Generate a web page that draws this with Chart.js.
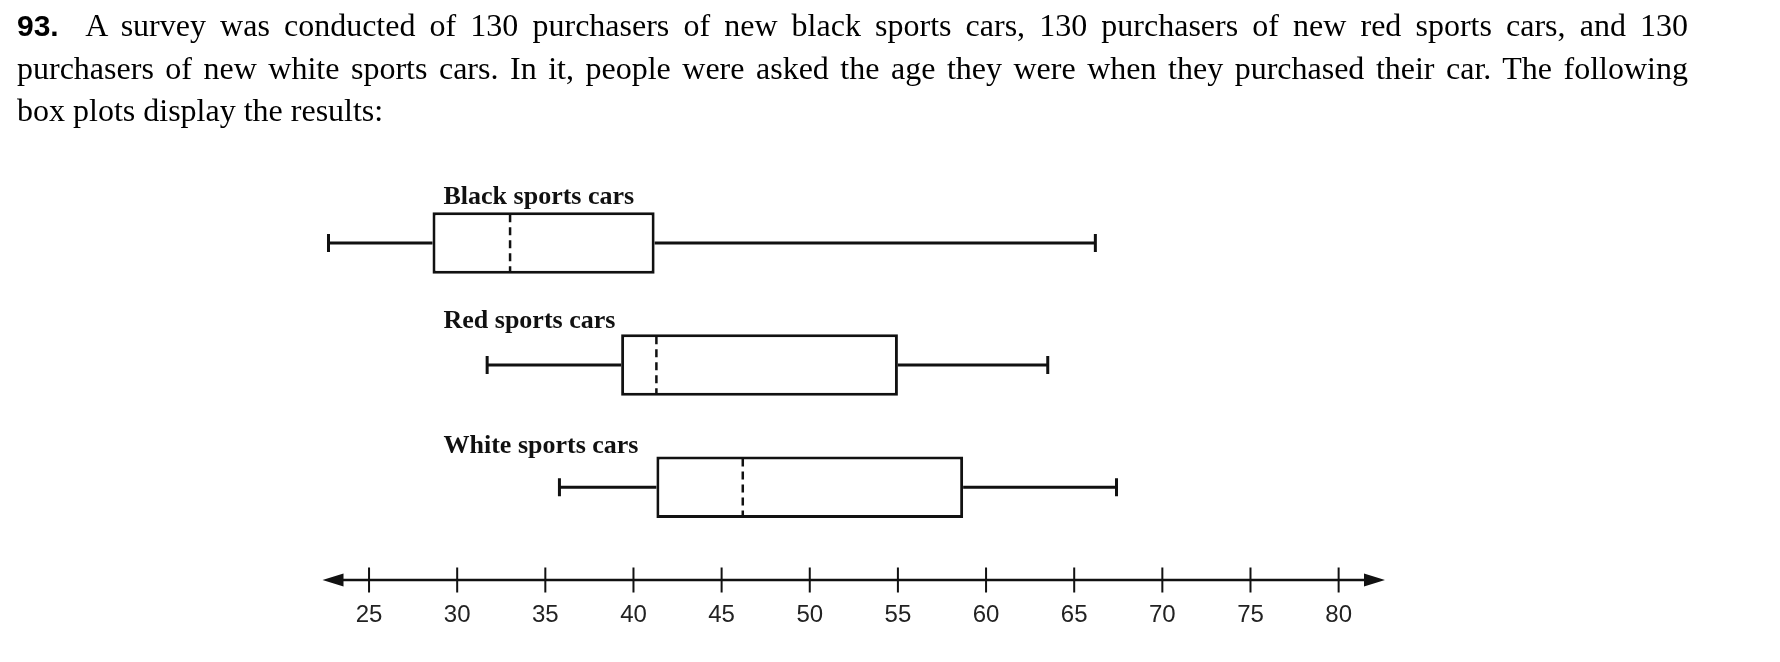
<!DOCTYPE html>
<html>
<head>
<meta charset="utf-8">
<script src="https://cdn.jsdelivr.net/npm/chart.js@4.4.1/dist/chart.umd.min.js"></script>
<style>
  html, body { margin: 0; padding: 0; background: #fff; }
  #wrap { position: relative; width: 1780px; height: 662px; overflow: hidden; }
  #chart { position: absolute; left: 0; top: 0; }
  #question {
    position: absolute; left: 17px; top: 4px; width: 1671px; z-index: 2;
    font: 32px/42px "Liberation Serif", "Times New Roman", serif; color: #000;
  }
  #question .ln { text-align: justify; text-align-last: justify; }
  #question .ln.last { text-align-last: left; }
  #question b { font-family: "Liberation Sans", Arial, sans-serif; font-size: 30px; }
</style>
</head>
<body>
<div id="wrap">
  <div id="question">
    <div class="ln"><b>93.</b>&nbsp; A survey was conducted of 130 purchasers of new black sports cars, 130 purchasers of new red sports cars, and 130</div>
    <div class="ln">purchasers of new white sports cars. In it, people were asked the age they were when they purchased their car. The following</div>
    <div class="ln last">box plots display the results:</div>
  </div>
  <canvas id="chart" width="1780" height="662"></canvas>
</div>
<script>
// box plot values (age at purchase)
const categories = ['Black sports cars', 'Red sports cars', 'White sports cars'];
const minimums = [22.7, 31.7, 35.8];
const lowerQuartiles = [28.6, 39.3, 41.3];
const medians = [33.0, 41.3, 46.2];
const upperQuartiles = [41.2, 55.0, 58.7];
const maximums = [66.2, 63.5, 67.4];
const tickValues = [25, 30, 35, 40, 45, 50, 55, 60, 65, 70, 75, 80];

// whiskers, medians, labels and the number line with arrows
const boxPlotExtras = {
  id: 'boxPlotExtras',
  afterDatasetsDraw(chart) {
    const ctx = chart.ctx;
    const x = chart.scales.x;
    const area = chart.chartArea;
    const meta = chart.getDatasetMeta(0);
    ctx.save();
    ctx.strokeStyle = '#111';
    ctx.fillStyle = '#111';

    meta.data.forEach((bar, i) => {
      const y = bar.y;
      const h = bar.height;
      const xMin = x.getPixelForValue(minimums[i]);
      const xQ1 = x.getPixelForValue(lowerQuartiles[i]);
      const xMed = x.getPixelForValue(medians[i]);
      const xQ3 = x.getPixelForValue(upperQuartiles[i]);
      const xMax = x.getPixelForValue(maximums[i]);

      ctx.setLineDash([]);
      ctx.lineWidth = 3;
      ctx.beginPath();
      ctx.moveTo(xMin, y); ctx.lineTo(xQ1, y);
      ctx.moveTo(xQ3, y); ctx.lineTo(xMax, y);
      ctx.moveTo(xMin, y - 9); ctx.lineTo(xMin, y + 9);
      ctx.moveTo(xMax, y - 9); ctx.lineTo(xMax, y + 9);
      ctx.stroke();

      ctx.setLineDash([8, 5]);
      ctx.lineWidth = 2.5;
      ctx.beginPath();
      ctx.moveTo(xMed, y - h / 2 + 2);
      ctx.lineTo(xMed, y + h / 2 - 2);
      ctx.stroke();

      ctx.setLineDash([]);
      ctx.font = 'bold 26px "Liberation Serif", serif';
      ctx.textBaseline = 'middle';
      ctx.textAlign = 'left';
      ctx.fillText(categories[i], area.left + 121, y - 46 + i * 2.5);
    });

    // number line
    const yAxis = area.bottom;
    ctx.lineWidth = 2.5;
    ctx.beginPath();
    ctx.moveTo(area.left + 10, yAxis);
    ctx.lineTo(area.right - 10, yAxis);
    ctx.stroke();
    ctx.beginPath();
    ctx.moveTo(area.left, yAxis);
    ctx.lineTo(area.left + 21, yAxis - 6.5);
    ctx.lineTo(area.left + 21, yAxis + 6.5);
    ctx.closePath();
    ctx.moveTo(area.right, yAxis);
    ctx.lineTo(area.right - 21, yAxis - 6.5);
    ctx.lineTo(area.right - 21, yAxis + 6.5);
    ctx.closePath();
    ctx.fill();

    ctx.lineWidth = 2;
    ctx.beginPath();
    tickValues.forEach(v => {
      const px = x.getPixelForValue(v);
      ctx.moveTo(px, yAxis - 12.5);
      ctx.lineTo(px, yAxis + 12.5);
    });
    ctx.stroke();
    ctx.restore();
  }
};

new Chart(document.getElementById('chart'), {
  type: 'bar',
  data: {
    datasets: [{
      data: categories.map((c, i) => ({ y: categories.length - i, x: [lowerQuartiles[i], upperQuartiles[i]] })),
      backgroundColor: '#fff',
      borderColor: '#111',
      borderWidth: 3,
      borderSkipped: false,
      categoryPercentage: 1,
      barPercentage: 0.504
    }]
  },
  options: {
    indexAxis: 'y',
    responsive: false,
    animation: false,
    layout: { padding: { left: 322.5, right: 395, top: 133, bottom: 22 } },
    plugins: { legend: { display: false }, tooltip: { enabled: false } },
    scales: {
      x: {
        type: 'linear',
        min: 22.36,
        max: 82.63,
        grid: { display: false },
        border: { display: false },
        afterBuildTicks: scale => { scale.ticks = tickValues.map(v => ({ value: v })); },
        afterFit: scale => { scale.height = 60; },
        ticks: {
          padding: 13,
          color: '#222',
          font: { family: '"Liberation Sans", Arial, sans-serif', size: 24 }
        }
      },
      y: {
        type: 'linear',
        display: false,
        offset: false,
        min: 0.24,
        max: 3.9,
        afterBuildTicks: scale => { scale.ticks = categories.map((c, i) => ({ value: i + 1 })); }
      }
    }
  },
  plugins: [boxPlotExtras]
});
</script>
</body>
</html>
